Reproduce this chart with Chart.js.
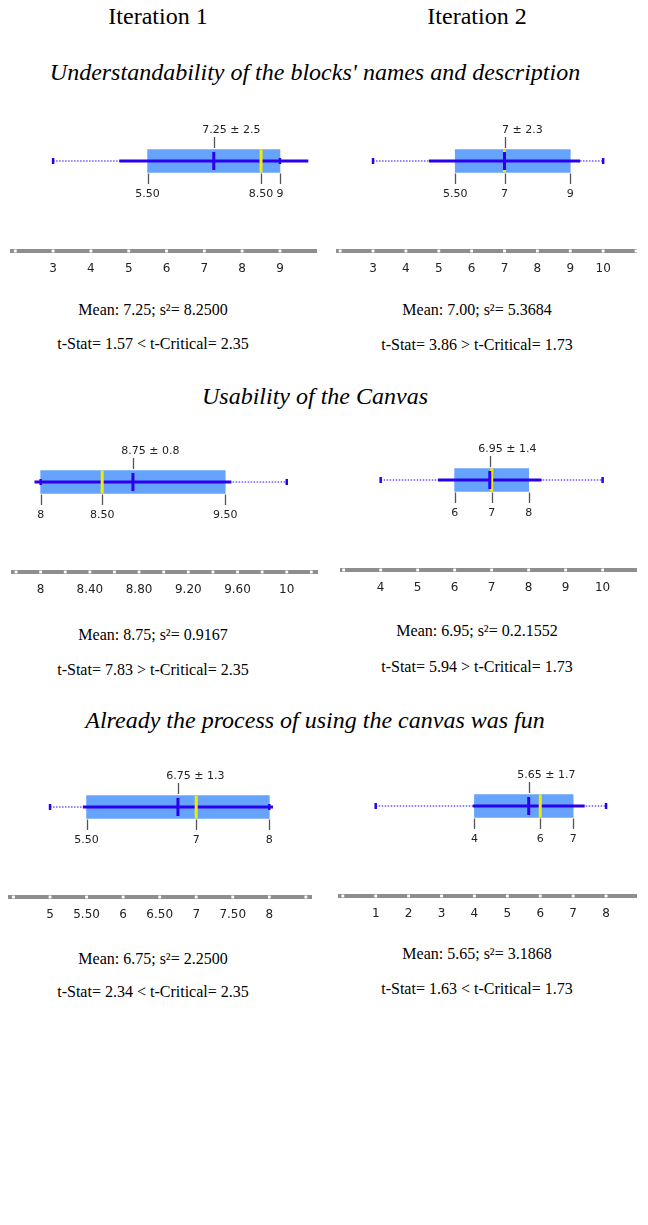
<!DOCTYPE html>
<html><head><meta charset="utf-8">
<script src="https://cdn.jsdelivr.net/npm/chart.js@4.4.1/dist/chart.umd.min.js"></script>
<style>
html,body{margin:0;padding:0;background:#fff;}
#page{position:relative;width:648px;height:1225px;overflow:hidden;background:#fff;}
.t{position:absolute;white-space:nowrap;text-align:center;font-family:"Liberation Serif","Times New Roman",serif;color:#000;}
.cw{position:absolute;width:324px;height:180px;}
</style></head><body><div id="page"></div>
<script>
// ---------------- data ----------------
const iterationNames = ['Iteration 1', 'Iteration 2'];
const questionTitles = ["Understandability of the blocks' names and description", 'Usability of the Canvas', 'Already the process of using the canvas was fun'];
// panels: Q1-It1, Q1-It2, Q2-It1, Q2-It2, Q3-It1, Q3-It2
const minValues    = [3,    3,   8,    4,    5,    1];
const q1Values     = [5.5,  5.5, 8,    6,    5.5,  4];
const medianValues = [8.5,  7,   8.5,  7,    7,    6];
const q3Values     = [9,    9,   9.5,  8,    8,    7];
const maxValues    = [9,    10,  10,   10,   8,    8];
const meanValues   = [7.25, 7,   8.75, 6.95, 6.75, 5.65];
const sdValues     = [2.5,  2.3, 0.8,  1.4,  1.3,  1.7];
const meanTexts    = ['7.25', '7', '8.75', '6.95', '6.75', '5.65'];
const sdTexts      = ['2.5', '2.3', '0.8', '1.4', '1.3', '1.7'];
const quartileTexts = [['5.50','8.50','9'], ['5.50','7','9'], ['8','8.50','9.50'], ['6','7','8'], ['5.50','7','8'], ['4','6','7']];
const axisMin = [1.86, 1.874, 7.759, 2.9, 4.425, -0.146];
const axisMax = [9.98, 11.03, 10.254, 10.93, 8.584, 8.94];
const tickValues = [
  [2,3,4,5,6,7,8,9],
  [2,3,4,5,6,7,8,9,10,11],
  [7.8,8,8.2,8.4,8.6,8.8,9,9.2,9.4,9.6,9.8,10,10.2],
  [3,4,5,6,7,8,9,10],
  [4.5,5,5.5,6,6.5,7,7.5,8,8.5],
  [0,1,2,3,4,5,6,7,8]
];
const tickLabels = [
  ['','3','4','5','6','7','8','9'],
  ['','3','4','5','6','7','8','9','10',''],
  ['','8','','8.40','','8.80','','9.20','','9.60','','10',''],
  ['','4','5','6','7','8','9','10'],
  ['','5','5.50','6','6.50','7','7.50','8',''],
  ['','1','2','3','4','5','6','7','8']
];
const meanStatTexts = ['Mean: 7.25; s\u00b2= 8.2500', 'Mean: 7.00; s\u00b2= 5.3684', 'Mean: 8.75; s\u00b2= 0.9167', 'Mean: 6.95; s\u00b2= 0.2.1552', 'Mean: 6.75; s\u00b2= 2.2500', 'Mean: 5.65; s\u00b2= 3.1868'];
const tStatTexts = ['t-Stat= 1.57 < t-Critical= 2.35', 't-Stat= 3.86 > t-Critical= 1.73', 't-Stat= 7.83 > t-Critical= 2.35', 't-Stat= 5.94 > t-Critical= 1.73', 't-Stat= 2.34 < t-Critical= 2.35', 't-Stat= 1.63 < t-Critical= 1.73'];

// ---------------- layout ----------------
const LAYOUT = {
  colCenters: [158, 477],
  headerY: 17,
  titleCenterX: 315,
  titleY: [73, 397, 721],
  statCenters: [153, 477],
  meanY: [311, 311, 636, 632, 960, 955],
  tStatY: [345, 346, 671, 668, 993, 990],
  canvasTop: [106, 106, 427, 425, 752, 751],
  padL: [10, 12, 11, 16, 8, 14],
  padR: [7, 11, 6, 11, 12, 11]
};
const ROW = 90; // height of box row above the axis line (y units = px)
const COLORS = { box: '#66a3fc', line: '#2a00ee', dots: '#6a5cff', median: '#f0ec00', axis: '#8e8e8e', lead: '#555', text: '#222' };

const page = document.getElementById('page');
function addText(txt, cx, cy, size, italic) {
  const d = document.createElement('div');
  d.className = 't';
  d.textContent = txt;
  d.style.fontSize = size + 'px';
  d.style.lineHeight = size + 'px';
  d.style.left = (cx - 320) + 'px';
  d.style.width = '640px';
  d.style.top = (cy - size * 0.56) + 'px';
  if (italic) d.style.fontStyle = 'italic';
  page.appendChild(d);
}
iterationNames.forEach((n, k) => addText(n, LAYOUT.colCenters[k], LAYOUT.headerY, 24, false));
questionTitles.forEach((q, r) => addText(q, LAYOUT.titleCenterX, LAYOUT.titleY[r], 24, true));
meanStatTexts.forEach((s, i) => addText(s, LAYOUT.statCenters[i % 2], LAYOUT.meanY[i], 16, false));
tStatTexts.forEach((s, i) => addText(s, LAYOUT.statCenters[i % 2], LAYOUT.tStatY[i], 16, false));

Chart.defaults.font.family = '"DejaVu Sans", Verdana, sans-serif';

const boxLabels = {
  id: 'boxLabels',
  afterDatasetsDraw(chart, args, opts) {
    const i = opts.panel;
    const ctx = chart.ctx, xs = chart.scales.x, ys = chart.scales.y;
    const c = ys.getPixelForValue(ROW);
    ctx.save();
    ctx.strokeStyle = COLORS.lead;
    ctx.lineWidth = 1.3;
    const seg = (x, y1, y2) => { ctx.beginPath(); ctx.moveTo(x, y1); ctx.lineTo(x, y2); ctx.stroke(); };
    const mx = Math.round(xs.getPixelForValue(meanValues[i])) + 0.5;
    seg(mx, c - 24, c - 13);
    const qv = [q1Values[i], medianValues[i], q3Values[i]];
    qv.forEach(v => seg(Math.round(xs.getPixelForValue(v)) + 0.5, c + 12.5, c + 23));
    ctx.fillStyle = COLORS.text;
    ctx.font = '11px "DejaVu Sans"';
    ctx.textBaseline = 'middle';
    ctx.textAlign = 'left';
    const mw = ctx.measureText(meanTexts[i]).width;
    ctx.fillText(meanTexts[i] + ' \u00b1 ' + sdTexts[i], mx - mw / 2, c - 31);
    ctx.textAlign = 'center';
    qv.forEach((v, k) => ctx.fillText(quartileTexts[i][k], xs.getPixelForValue(v), c + 33.5));
    ctx.restore();
  }
};

for (let i = 0; i < 6; i++) {
  const wrap = document.createElement('div');
  wrap.className = 'cw';
  wrap.style.left = (i % 2 === 0 ? 0 : 324) + 'px';
  wrap.style.top = LAYOUT.canvasTop[i] + 'px';
  const cv = document.createElement('canvas');
  cv.width = 324; cv.height = 180;
  wrap.appendChild(cv);
  page.appendChild(wrap);
  new Chart(cv, {
    type: 'scatter',
    data: { datasets: [
      { type: 'line', data: [{x: axisMin[i], y: 0}, {x: axisMax[i], y: 0}], borderColor: COLORS.axis, borderWidth: 4, pointRadius: 0, clip: false, order: 20 },
      { type: 'scatter', data: tickValues[i].map(v => ({x: v, y: 0})), pointStyle: 'rect', pointRadius: 2, pointBackgroundColor: '#ffffff', pointBorderWidth: 0, clip: false, order: 19 },
      { type: 'bar', indexAxis: 'y', data: [{x: [q1Values[i], q3Values[i]], y: ROW}], backgroundColor: COLORS.box, borderWidth: 0, barThickness: 23, order: 18 },
      { type: 'line', data: [{x: minValues[i], y: ROW}, {x: maxValues[i], y: ROW}], borderColor: COLORS.dots, borderWidth: 1.6, borderDash: [1.5, 1.5], pointRadius: 0, order: 17 },
      { type: 'line', data: [{x: meanValues[i] - sdValues[i], y: ROW}, {x: meanValues[i] + sdValues[i], y: ROW}], borderColor: COLORS.line, borderWidth: 3, pointRadius: 0, order: 16 },
      { type: 'scatter', data: [{x: minValues[i], y: ROW}, {x: maxValues[i], y: ROW}], pointStyle: 'line', pointRotation: 90, pointRadius: 3, pointBorderColor: COLORS.line, pointBorderWidth: 2.5, order: 15 },
      { type: 'scatter', data: [{x: medianValues[i], y: ROW}], pointStyle: 'line', pointRotation: 90, pointRadius: 11.5, pointBorderColor: COLORS.median, pointBorderWidth: 3, order: 14 },
      { type: 'scatter', data: [{x: meanValues[i], y: ROW}], pointStyle: 'line', pointRotation: 90, pointRadius: 9, pointBorderColor: COLORS.line, pointBorderWidth: 3, order: 13 }
    ]},
    options: {
      responsive: false,
      animation: false,
      devicePixelRatio: 1,
      events: [],
      layout: { autoPadding: false, padding: { left: LAYOUT.padL[i], right: LAYOUT.padR[i], top: 0, bottom: 0 } },
      plugins: { legend: { display: false }, tooltip: { enabled: false }, boxLabels: { panel: i } },
      scales: {
        x: {
          type: 'linear', min: axisMin[i], max: axisMax[i], bounds: 'data', beginAtZero: false, offset: false,
          afterBuildTicks: s => { s.ticks = tickValues[i].map(v => ({ value: v })); },
          ticks: { autoSkip: false, maxRotation: 0, minRotation: 0, padding: 10, color: COLORS.text,
                   font: { size: 12, lineHeight: 1.25 },
                   callback: (v, k) => tickLabels[i][k] },
          grid: { display: false, drawTicks: false },
          border: { display: false }
        },
        y: { type: 'linear', min: 0, max: 145, display: false, offset: false, bounds: 'data', grid: { offset: false } }
      }
    },
    plugins: [boxLabels]
  });
}
</script></body></html>
